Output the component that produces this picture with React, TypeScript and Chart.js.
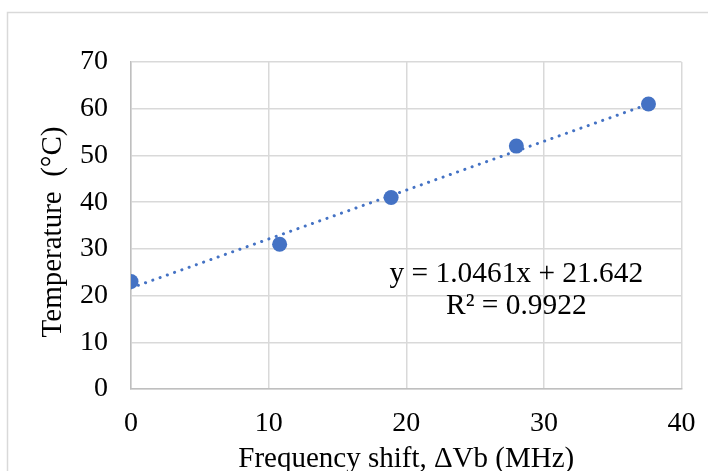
import React, { useEffect, useRef } from "react";
import { Chart, registerables } from "chart.js";

Chart.register(...registerables);

// ---- data ----
const shiftMHz = [0, 10.8, 18.9, 28.0, 37.6];
const temperatureC = [23, 31, 41, 52, 61];
const xTicks = [0, 10, 20, 30, 40];
const yTicks = [0, 10, 20, 30, 40, 50, 60, 70];
const trendSlope = 1.0461;
const trendIntercept = 21.642;
const trendR2 = 0.9922;
const xTitle = "Frequency shift, \u0394Vb (MHz)";
const yTitle = "Temperature  (\u00B0C)";
const equationLines = [
  `y = ${trendSlope}x + ${trendIntercept}`,
  `R\u00B2 = ${trendR2}`,
];

// ---- style ----
const W = 708;
const H = 500;
const FONT = "'Liberation Serif', 'Times New Roman', serif";
const BLUE = "#4472C4";
const labelPos = { x: 28.0, y1: 22.9, y2: 16.05 };

const framePlugin = {
  id: "frame",
  beforeDraw(chart: any) {
    const ctx = chart.ctx;
    ctx.save();
    ctx.fillStyle = "#ffffff";
    ctx.fillRect(0, 0, chart.width, chart.height);
    ctx.strokeStyle = "#d9d9d9";
    ctx.lineWidth = 1.5;
    ctx.strokeRect(7.5, 12.5, 900, 900);
    ctx.restore();
  },
};

const textPlugin = {
  id: "texts",
  afterDatasetsDraw(chart: any) {
    const ctx = chart.ctx;
    const xs = chart.scales.x;
    const ys = chart.scales.y;
    const area = chart.chartArea;
    ctx.save();
    ctx.fillStyle = "#000000";
    // equation
    ctx.font = `29.4px ${FONT}`;
    ctx.textAlign = "center";
    ctx.textBaseline = "alphabetic";
    const px = xs.getPixelForValue(labelPos.x);
    ctx.fillText(equationLines[0], px, ys.getPixelForValue(labelPos.y1));
    ctx.fillText(equationLines[1], px, ys.getPixelForValue(labelPos.y2));
    // x title
    ctx.font = `29px ${FONT}`;
    ctx.fillText(xTitle, (area.left + area.right) / 2, 467);
    // y title
    ctx.translate(60.5, 232);
    ctx.rotate(-Math.PI / 2);
    ctx.fillText(yTitle, 0, 0);
    ctx.restore();
  },
};

export default function App() {
  const ref = useRef<HTMLCanvasElement | null>(null);
  useEffect(() => {
    if (!ref.current) return;
    const lastX = shiftMHz[shiftMHz.length - 1];
    const trend = [
      { x: shiftMHz[0], y: trendSlope * shiftMHz[0] + trendIntercept },
      { x: lastX, y: trendSlope * lastX + trendIntercept },
    ];
    const chart = new Chart(ref.current, {
      type: "scatter",
      data: {
        datasets: [
          {
            label: "data",
            data: shiftMHz.map((x, i) => ({ x, y: temperatureC[i] })),
            backgroundColor: BLUE,
            borderColor: BLUE,
            pointRadius: 7.5,
            pointHoverRadius: 7.5,
            borderWidth: 0,
            order: 0,
          },
          {
            type: "line",
            label: "trend",
            data: trend,
            borderColor: BLUE,
            borderWidth: 3,
            borderDash: [0.1, 7.6],
            borderCapStyle: "round",
            pointRadius: 0,
            fill: false,
            order: 1,
          } as any,
        ],
      },
      options: {
        responsive: false,
        animation: false,
        devicePixelRatio: 1,
        layout: { padding: { top: 62, right: 26.5, left: 0, bottom: 0 } },
        plugins: {
          legend: { display: false },
          tooltip: { enabled: false },
        },
        scales: {
          x: {
            type: "linear",
            min: 0,
            max: 40,
            afterBuildTicks: (s: any) => {
              s.ticks = xTicks.map((v) => ({ value: v }));
            },
            afterFit: (s: any) => {
              s.height = H - 389;
              s.paddingLeft = 0;
              s.paddingRight = 0;
            },
            grid: { color: "#d9d9d9", lineWidth: 1.5, drawTicks: false },
            border: { color: "#bfbfbf", width: 1.5 },
            ticks: {
              color: "#000000",
              font: { family: FONT, size: 28 },
              padding: 18,
            },
          },
          y: {
            type: "linear",
            min: 0,
            max: 70,
            afterBuildTicks: (s: any) => {
              s.ticks = yTicks.map((v) => ({ value: v }));
            },
            afterFit: (s: any) => {
              s.width = 131;
              s.paddingTop = 0;
              s.paddingBottom = 0;
            },
            grid: { color: "#d9d9d9", lineWidth: 1.5, drawTicks: false },
            border: { color: "#bfbfbf", width: 1.5 },
            ticks: {
              color: "#000000",
              font: { family: FONT, size: 28 },
              padding: 23,
            },
          },
        },
      },
      plugins: [framePlugin, textPlugin],
    });
    return () => chart.destroy();
  }, []);
  return (
    <div
      style={{
        position: "fixed",
        left: 0,
        top: 0,
        width: W,
        height: 471,
        overflow: "hidden",
        background: "#fff",
      }}
    >
      <canvas ref={ref} width={W} height={H} style={{ display: "block", width: W, height: H }} />
    </div>
  );
}
